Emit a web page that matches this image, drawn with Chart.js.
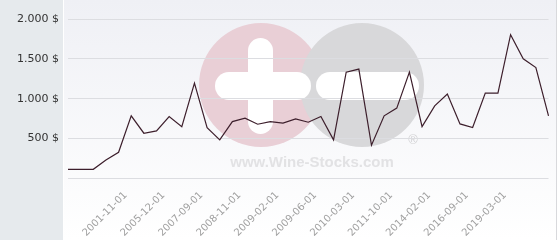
<!DOCTYPE html>
<html lang="de">
<head>
    <meta charset="UTF-8">
    <title>Preisentwicklung</title>
    <script src="https://cdn.jsdelivr.net/npm/chart.js"></script>
    <style>
        html, body {
            margin: 0;
            padding: 0;
            background: #ffffff;
        }
        .wrap {
            width: 560px;
            height: 240px;
        }
    </style>
</head>
<body>
    <div class="wrap"><canvas id="priceChart" width="560" height="240"></canvas></div>

    <script>
        // Datum-Labels (nur jedes dritte ist im Bild lesbar)
        const dates = [
            '', '', '', '', '2001-11-01', '', '', '2005-12-01', '', '',
            '2007-09-01', '', '', '2008-11-01', '', '', '2009-02-01', '', '',
            '2009-06-01', '', '', '2010-03-01', '', '', '2011-10-01', '', '',
            '2014-02-01', '', '', '2016-09-01', '', '', '2019-03-01', '', '', '', ''
        ];

        // Preise in $
        const prices = [
            113, 113, 113, 230, 327, 784, 566, 595, 775, 649,
            1195, 637, 482, 712, 755, 679, 712, 692, 746, 704,
            775, 482, 1333, 1371, 415, 784, 881, 1333, 649, 910,
            1057, 683, 637, 1069, 1069, 1803, 1501, 1391, 784
        ];

        const yTicks = [0, 500, 1000, 1500, 2000];

        function formatDollar(v) {
            return v.toLocaleString('de-DE') + ' $';
        }

        // Hintergrund, graue Leiste links und Wasserzeichen
        const backdrop = {
            id: 'backdrop',
            beforeDraw(chart) {
                const ctx = chart.ctx;
                ctx.save();
                ctx.fillStyle = '#e6eaed';
                ctx.fillRect(0, 0, 63, chart.height);

                const grad = ctx.createLinearGradient(0, 0, 0, chart.height);
                grad.addColorStop(0, '#eff0f5');
                grad.addColorStop(1, '#ffffff');
                ctx.fillStyle = grad;
                ctx.fillRect(64, 0, 492, chart.height);

                ctx.strokeStyle = '#d8d9dc';
                ctx.lineWidth = 1;
                ctx.beginPath();
                ctx.moveTo(556.5, 0);
                ctx.lineTo(556.5, chart.height);
                ctx.stroke();

                // Wasserzeichen
                ctx.fillStyle = '#e9cfd6';
                ctx.beginPath();
                ctx.arc(261, 85, 62, 0, Math.PI * 2);
                ctx.fill();
                ctx.fillStyle = '#d8d8da';
                ctx.beginPath();
                ctx.arc(362, 85, 62, 0, Math.PI * 2);
                ctx.fill();

                ctx.fillStyle = '#ffffff';
                ctx.beginPath();
                ctx.roundRect(215, 72, 96, 28, 14);
                ctx.fill();
                ctx.beginPath();
                ctx.roundRect(248, 38, 25, 96, 12.5);
                ctx.fill();
                ctx.beginPath();
                ctx.roundRect(316, 72, 103, 28, 14);
                ctx.fill();

                ctx.fillStyle = '#e2e2e4';
                ctx.font = 'bold 15px "Liberation Sans", Arial, sans-serif';
                ctx.textAlign = 'center';
                ctx.textBaseline = 'alphabetic';
                ctx.fillText('www.Wine-Stocks.com', 312, 167);
                ctx.font = '13px "Liberation Sans", Arial, sans-serif';
                ctx.fillStyle = '#d4d4d6';
                ctx.fillText('®', 413, 144);
                ctx.restore();
            }
        };

        const ctx = document.getElementById('priceChart').getContext('2d');
        new Chart(ctx, {
            type: 'line',
            data: {
                labels: dates,
                datasets: [{
                    data: prices,
                    borderColor: '#3d1f2c',
                    borderWidth: 1.2,
                    pointRadius: 0,
                    tension: 0,
                    fill: false
                }]
            },
            options: {
                responsive: false,
                animation: false,
                layout: {
                    padding: { top: 19, right: 5.7, bottom: 0, left: 0 }
                },
                plugins: {
                    legend: { display: false },
                    tooltip: { enabled: false }
                },
                scales: {
                    x: {
                        grid: { display: false },
                        border: { display: false },
                        afterFit(axis) { axis.height = 61.7; },
                        ticks: {
                            autoSkip: false,
                            minRotation: 45,
                            maxRotation: 45,
                            labelOffset: 7,
                            color: '#a0a0a0',
                            font: { family: 'DejaVu Sans', size: 10 },
                            padding: 3
                        }
                    },
                    y: {
                        min: yTicks[0],
                        max: yTicks[yTicks.length - 1],
                        afterFit(axis) { axis.width = 68; },
                        afterBuildTicks(axis) {
                            axis.ticks = yTicks.map(v => ({ value: v }));
                        },
                        grid: {
                            color: '#dcdde1',
                            lineWidth: 1,
                            drawTicks: false
                        },
                        border: { display: false },
                        ticks: {
                            padding: 9,
                            color: '#333333',
                            font: { family: 'DejaVu Sans', size: 11 },
                            callback: v => v === 0 ? '' : formatDollar(v)
                        }
                    }
                }
            },
            plugins: [backdrop]
        });
    </script>
</body>
</html>
